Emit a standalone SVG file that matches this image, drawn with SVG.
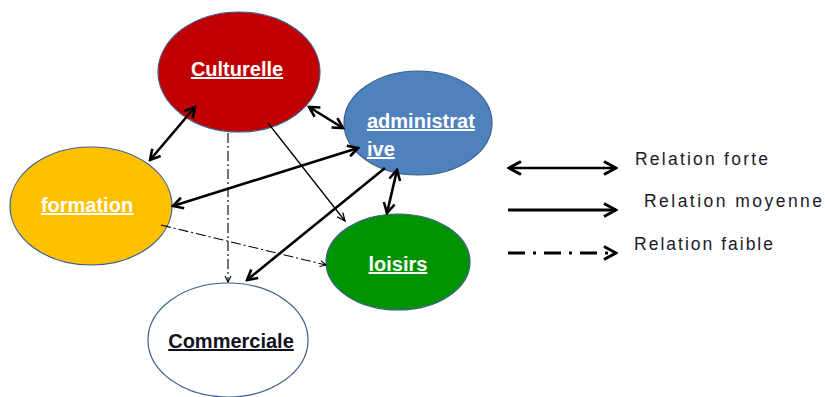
<svg xmlns="http://www.w3.org/2000/svg" width="825" height="397" viewBox="0 0 825 397">
<style>
.node{stroke:#3d5f8c;stroke-width:1.2}
.lbl{font-family:"Liberation Sans",Arial,sans-serif;font-weight:bold;font-size:20px;text-decoration:underline}
.w{fill:#ffffff}
.k{fill:#111122}
.strong{stroke:#000;stroke-width:2.6;fill:none}
.mid{stroke:#000;stroke-width:1.3;fill:none}
.weak{stroke:#000;stroke-width:1.1;fill:none;stroke-dasharray:10 3 2 3}
.lg{font-family:"Liberation Sans",Arial,sans-serif;font-size:17.5px;fill:#1a1a2a}
</style>
<defs>
<marker id="aS" viewBox="0 0 14 14" refX="12" refY="7" markerWidth="14" markerHeight="14" markerUnits="userSpaceOnUse" orient="auto-start-reverse">
<path d="M2,1.5 L12,7 L2,12.5" fill="none" stroke="#000" stroke-width="2.6"/>
</marker>
<marker id="aM" viewBox="0 0 10 10" refX="9" refY="5" markerWidth="10" markerHeight="10" markerUnits="userSpaceOnUse" orient="auto">
<path d="M1,1.5 L9,5 L1,8.5" fill="none" stroke="#000" stroke-width="1.3"/>
</marker>
<marker id="aW" viewBox="0 0 8 8" refX="7" refY="4" markerWidth="8" markerHeight="8" markerUnits="userSpaceOnUse" orient="auto">
<path d="M1,1 L7,4 L1,7" fill="none" stroke="#000" stroke-width="1.1"/>
</marker>
<marker id="aL" viewBox="0 0 16 16" refX="14" refY="8" markerWidth="16" markerHeight="16" markerUnits="userSpaceOnUse" orient="auto-start-reverse">
<path d="M2,1.5 L14,8 L2,14.5" fill="none" stroke="#000" stroke-width="3"/>
</marker>
</defs>

<g id="n-culturelle">
<ellipse class="node" cx="239" cy="72" rx="81" ry="60" fill="#c00000"/>
<text class="lbl w" x="237" y="76" text-anchor="middle">Culturelle</text>
</g>
<g id="n-administrative">
<ellipse class="node" cx="418" cy="123" rx="74" ry="52" fill="#4f81bd"/>
<text class="lbl w" x="367" y="128">administrat</text>
<text class="lbl w" x="367" y="156">ive</text>
</g>
<g id="n-formation">
<ellipse class="node" cx="91" cy="206" rx="81" ry="59" fill="#ffc000"/>
<text class="lbl w" x="87" y="212" text-anchor="middle">formation</text>
</g>
<g id="n-loisirs">
<ellipse class="node" cx="398" cy="262" rx="72" ry="48" fill="#009300"/>
<text class="lbl w" x="398" y="271" text-anchor="middle">loisirs</text>
</g>
<g id="n-commerciale">
<ellipse class="node" cx="228" cy="340" rx="80" ry="57" fill="#ffffff"/>
<text class="lbl k" x="231" y="348" text-anchor="middle">Commerciale</text>
</g>

<g id="connectors">
<line class="strong" x1="195" y1="107" x2="150" y2="160" marker-start="url(#aS)" marker-end="url(#aS)"/>
<line class="strong" x1="309" y1="107" x2="343" y2="128" marker-start="url(#aS)" marker-end="url(#aS)"/>
<line class="strong" x1="358" y1="148" x2="173" y2="206" marker-start="url(#aS)" marker-end="url(#aS)"/>
<line class="strong" x1="397" y1="170" x2="387" y2="213" marker-start="url(#aS)" marker-end="url(#aS)"/>
<line class="strong" x1="385" y1="168" x2="247" y2="280" marker-end="url(#aS)"/>
<line class="mid" x1="268" y1="123" x2="345" y2="221" marker-end="url(#aM)"/>
<line class="weak" x1="228" y1="133" x2="228" y2="282" marker-end="url(#aW)"/>
<line class="weak" x1="161" y1="225" x2="326" y2="265" marker-end="url(#aW)"/>
</g>

<g id="legend">
<line stroke="#000" stroke-width="2.6" x1="509" y1="168" x2="616" y2="168" marker-start="url(#aL)" marker-end="url(#aL)"/>
<line stroke="#000" stroke-width="3" x1="508" y1="210" x2="616" y2="210" marker-end="url(#aL)"/>
<line stroke="#000" stroke-width="3" stroke-dasharray="17 8 3 8" x1="508" y1="253" x2="616" y2="253" marker-end="url(#aL)"/>
<text class="lg" x="635" y="165" textLength="133" lengthAdjust="spacing">Relation forte</text>
<text class="lg" x="644" y="207" textLength="178" lengthAdjust="spacing">Relation moyenne</text>
<text class="lg" x="634" y="250" textLength="139" lengthAdjust="spacing">Relation faible</text>
</g>
</svg>
